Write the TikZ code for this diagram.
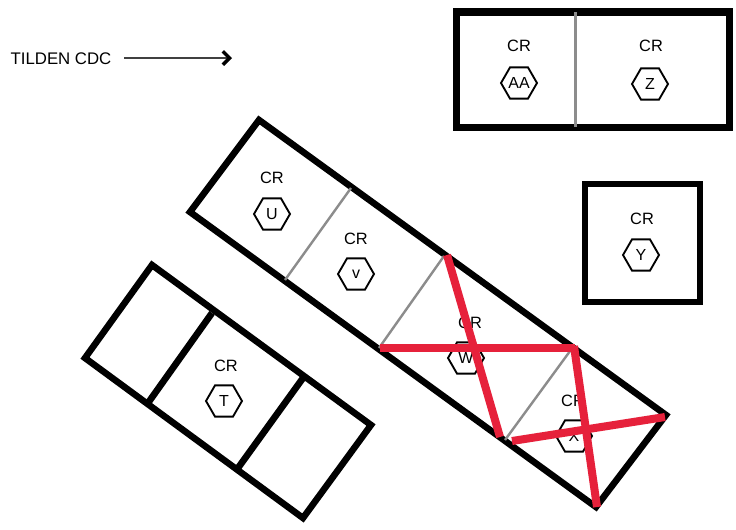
\documentclass[tikz,border=0pt]{standalone}
\usepackage{fontspec}
\setmainfont{Liberation Sans}
\usetikzlibrary{shapes.geometric,arrows.meta}
\tikzset{
  x=0.75pt,y=-0.75pt,
  room/.style={draw=black,line width=4.9pt,line join=miter},
  toproom/.style={draw=black,line width=5.4pt,line join=miter},
  wall/.style={draw=black,line width=5pt},
  thinwall/.style={draw=black!45,line width=1.8pt},
  cross/.style={draw=crossred,line width=6pt},
  hex/.style={draw=black,line width=1.4pt,regular polygon,regular polygon sides=6,minimum size=27pt,inner sep=0pt,font=\fontsize{12}{14}\selectfont},
  crlabel/.style={font=\fontsize{12.3}{14}\selectfont,inner sep=0pt},
  title/.style={font=\fontsize{12.6}{14}\selectfont,inner sep=0pt}
}
\definecolor{crossred}{HTML}{E6213B}
\begin{document}
\begin{tikzpicture}
\useasboundingbox (0,0) rectangle (736,529);
\fill[white] (0,0) rectangle (736,529);

% title and arrow
\node[title] (tilden) at (61,58.5) {TILDEN CDC};
\coordinate (arrowend) at (232,58);
\draw[line width=1.05pt,draw=black!75,-{Straight Barb[length=5pt,width=10pt,line width=2.6pt,black]}] (124,58) -- (arrowend);

% top-right double room
\draw[toproom] (456.5,12) rectangle (729.5,127.5);
\draw[thinwall] (575.5,12) -- (575.5,127);
\node[crlabel] (cr1) at (519,45.7) {CR};
\node[crlabel] (cr2) at (651,45.7) {CR};
\node[hex] (AA) at (519,83) {AA};
\node[hex] (Z) at (650,84) {Z};

% single room
\draw[room] (585,184) rectangle (700,302);
\node[crlabel] (cr3) at (642,218.7) {CR};
\node[hex] (Y) at (641,255) {Y};

% long diagonal block
\draw[room] (259,120) -- (666,415) -- (596,507) -- (190,212) -- cycle;
\draw[thinwall] (351,188) -- (285,280);
\draw[thinwall] (444,256) -- (379,348);
\draw[thinwall] (573,347) -- (505,440);
\node[crlabel] (cr4) at (272,177.7) {CR};
\node[hex] (U) at (272,214) {U};
\node[crlabel] (cr5) at (356,238.7) {CR};
\node[hex] (v) at (356,274) {v};
\node[crlabel] (cr6) at (470,322.7) {CR};
\node[hex] (W) at (466,358) {W};
\node[crlabel] (cr7) at (573,400.7) {CR};
\node[hex] (X) at (574,436) {X};

% left diagonal block
\draw[room] (152,265) -- (371,425) -- (303,518) -- (85,358) -- cycle;
\draw[wall] (212,313) -- (148,403);
\draw[wall] (303,378) -- (238,468);
\node[crlabel] (cr8) at (226,365.7) {CR};
\node[hex] (T) at (224,401) {T};

% red crosses
\draw[cross] (447,255) -- (500,437);
\draw[cross] (380,348) -- (575,348);
\draw[cross] (574,346) -- (597,507);
\draw[cross] (512,441) -- (665,417);
\end{tikzpicture}
\end{document}
